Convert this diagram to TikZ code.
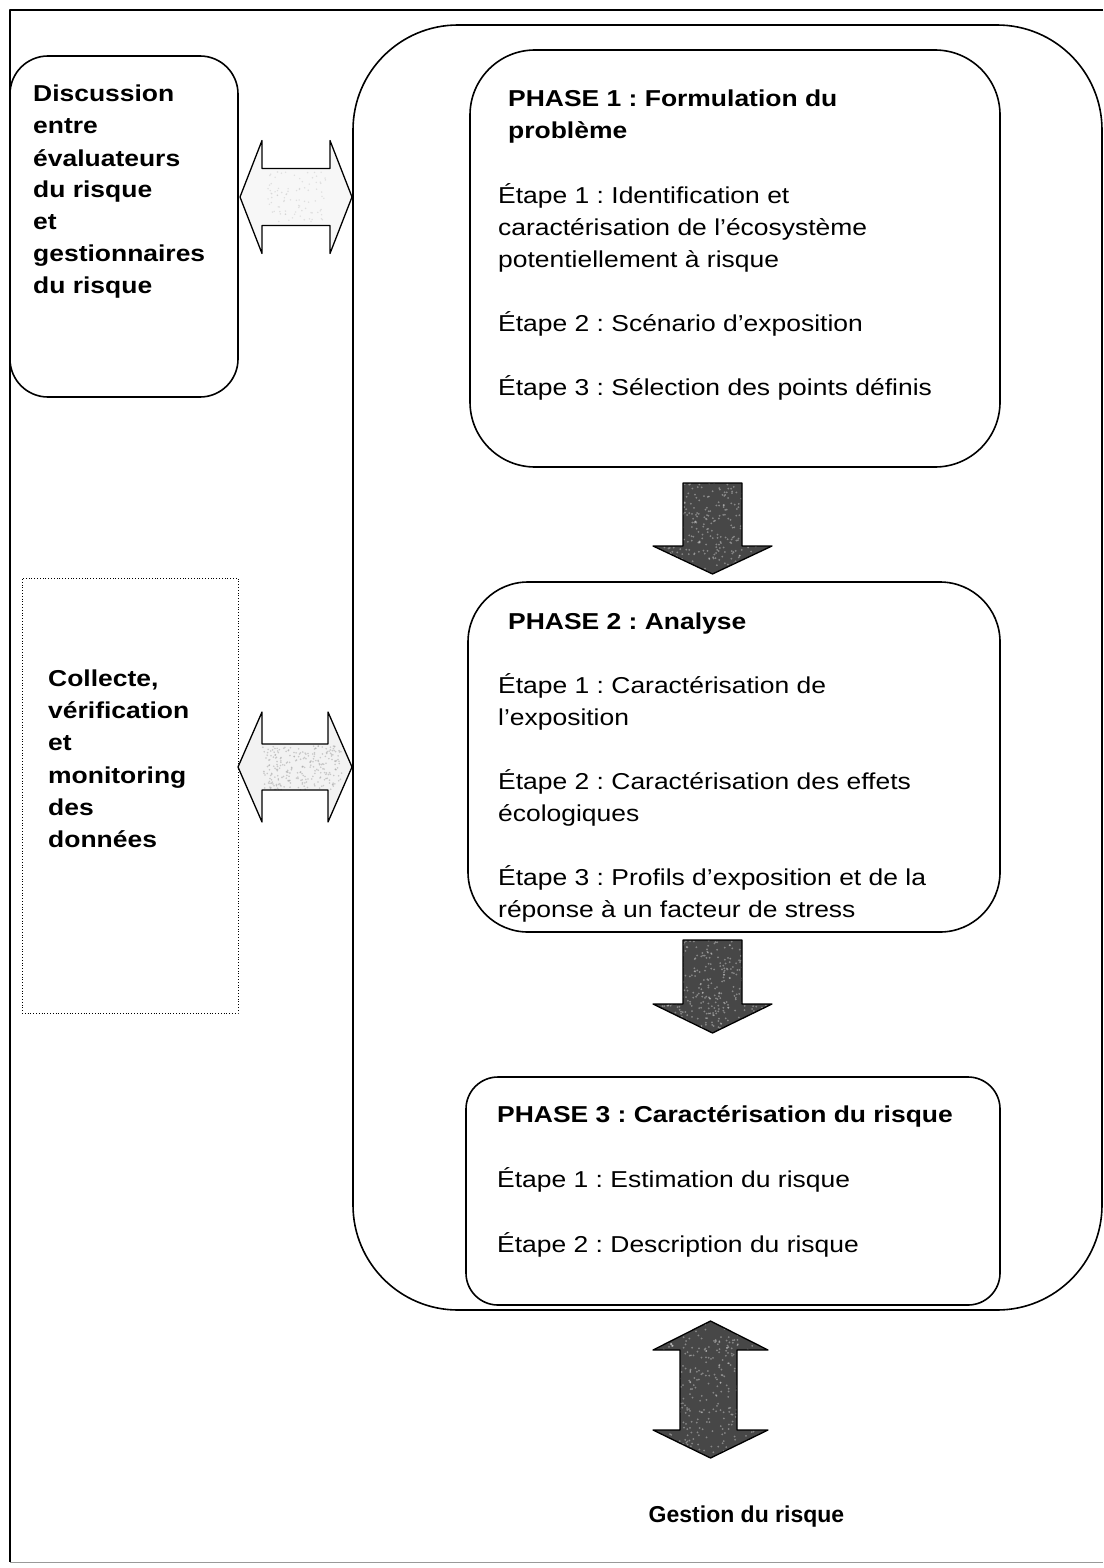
\documentclass[tikz,border=0pt]{standalone}
\usepackage{fontspec}
\setmainfont{Liberation Sans}[FakeStretch=1.15]
\newfontfamily\plainsans{Liberation Sans}
\frenchspacing
\begin{document}
\begin{tikzpicture}[x=1pt,y=-1pt,line join=round,
  box/.style={draw,line width=1.6pt,inner sep=0pt},
  txt/.style={anchor=base west,inner sep=0pt,font=\fontsize{23}{26}\selectfont},
  btxt/.style={txt,font=\fontsize{23}{26}\selectfont\bfseries},
  arrowline/.style={draw,line width=1.3pt}]
\pgfmathsetseed{4242}
\useasboundingbox (0,0) rectangle (1103,1568);
\fill[white] (0,0) rectangle (1103,1568);

% page frame
\draw[line width=1.6pt] (1103,10) -- (10,10) -- (10,1562);
\draw[line width=0.8pt,black!40] (10,1562) -- (1103,1562);

% boxes
\node[box,minimum width=749pt,minimum height=1285pt,rounded corners=105pt] (cont) at (727.5,667.5) {};
\node[box,minimum width=228pt,minimum height=341pt,rounded corners=38pt] (disc) at (124,226.5) {};
\node[draw,line width=0.8pt,dotted,inner sep=0pt,minimum width=216pt,minimum height=435pt] (data) at (130,795.5) {};
\node[box,minimum width=530pt,minimum height=417pt,rounded corners=65pt] (p1) at (735,258.5) {};
\node[box,minimum width=532pt,minimum height=350pt,rounded corners=60pt] (p2) at (734,757) {};
\node[box,minimum width=534pt,minimum height=228pt,rounded corners=32pt] (p3) at (733,1191) {};

% left-hand labels
\foreach \lbl/\yy [count=\i] in {Discussion/102,entre/134,évaluateurs/166,du risque/197,et/229,gestionnaires/261,du risque/293}
  \node[btxt] (disc\i) at (33,\yy) {\lbl};
\foreach \lbl/\yy [count=\i] in {{Collecte,}/686,vérification/718,et/750,monitoring/783,des/815,données/847}
  \node[btxt] (data\i) at (48,\yy) {\lbl};

% phase 1
\foreach \lbl/\yy [count=\i] in {PHASE 1 : Formulation du/107,problème/139}
  \node[btxt] (p1h\i) at (508,\yy) {\lbl};
\foreach \lbl/\yy [count=\i] in {Étape 1 : Identification et/203,caractérisation de l’écosystème/235,potentiellement à risque/267,Étape 2 : Scénario d’exposition/331,Étape 3 : Sélection des points définis/395}
  \node[txt] (p1t\i) at (498,\yy) {\lbl};

% phase 2
\node[btxt] (p2h1) at (508,629) {PHASE 2 : Analyse};
\foreach \lbl/\yy [count=\i] in {Étape 1 : Caractérisation de/693,l’exposition/725,Étape 2 : Caractérisation des effets/789,écologiques/821,Étape 3 : Profils d’exposition et de la/885,réponse à un facteur de stress/917}
  \node[txt] (p2t\i) at (498,\yy) {\lbl};

% phase 3
\node[btxt] (p3h1) at (497,1122) {PHASE 3 : Caractérisation du risque};
\node[txt] (p3t1) at (497,1187) {Étape 1 : Estimation du risque};
\node[txt] (p3t2) at (497,1252) {Étape 2 : Description du risque};

% management
\node[anchor=base,inner sep=0pt,font=\fontsize{23}{26}\selectfont\plainsans\bfseries] (gest) at (746.5,1522) {Gestion du risque};

% ---- block arrow outlines ----
\path[save path=\arrA] (240,197) -- (262,140.5) -- (262,168.5) -- (330,168.5) -- (330,140.5) -- (352,197)
  -- (330,253.5) -- (330,225.5) -- (262,225.5) -- (262,253.5) -- cycle;
\path[save path=\arrB] (238,767) -- (262,712) -- (262,744) -- (328,744) -- (328,712) -- (352,767)
  -- (328,822) -- (328,790) -- (262,790) -- (262,822) -- cycle;
\path[save path=\arrC] (683,483) -- (742,483) -- (742,546) -- (772,546) -- (712.5,574) -- (653,546) -- (683,546) -- cycle;
\path[save path=\arrD] (683,940) -- (742,940) -- (742,1004) -- (772,1004) -- (712.5,1033) -- (653,1004) -- (683,1004) -- cycle;
\path[save path=\arrE] (710.5,1321) -- (768,1350) -- (737,1350) -- (737,1430) -- (768,1430) -- (710.5,1458)
  -- (653,1430) -- (680,1430) -- (680,1350) -- (653,1350) -- cycle;

% light exchange arrows with a faint grain
\begin{scope}
  \path[use path=\arrA,clip];
  \fill[gray!6] (230,130) rectangle (360,260);
  \foreach \k in {1,...,90}
    \fill[gray!45,opacity=.5] ({268+58*rnd},{172+50*rnd}) circle (0.8pt);
\end{scope}
\begin{scope}
  \path[use path=\arrB,clip];
  \fill[gray!10] (230,700) rectangle (360,830);
  \foreach \k in {1,...,260}
    \fill[gray!70,opacity=.55] ({262+80*rnd},{746+44*rnd}) circle (0.9pt);
\end{scope}

% dark arrows, mottled
\foreach \pth/\xa/\ya/\w/\h in {\arrC/653/483/119/91,\arrD/653/940/119/93,\arrE/653/1321/115/137}{
  \begin{scope}
    \path[use path=\pth,clip];
    \fill[black!72] (\xa,\ya) rectangle ++(\w,\h);
    \foreach \k in {1,...,420}
      \fill[white,opacity=.35] ({\xa+\w*rnd},{\ya+\h*rnd}) circle (1pt);
  \end{scope}
}

\draw[arrowline,use path=\arrA];
\draw[arrowline,use path=\arrB];
\draw[arrowline,use path=\arrC];
\draw[arrowline,use path=\arrD];
\draw[arrowline,use path=\arrE];
\end{tikzpicture}
\end{document}
